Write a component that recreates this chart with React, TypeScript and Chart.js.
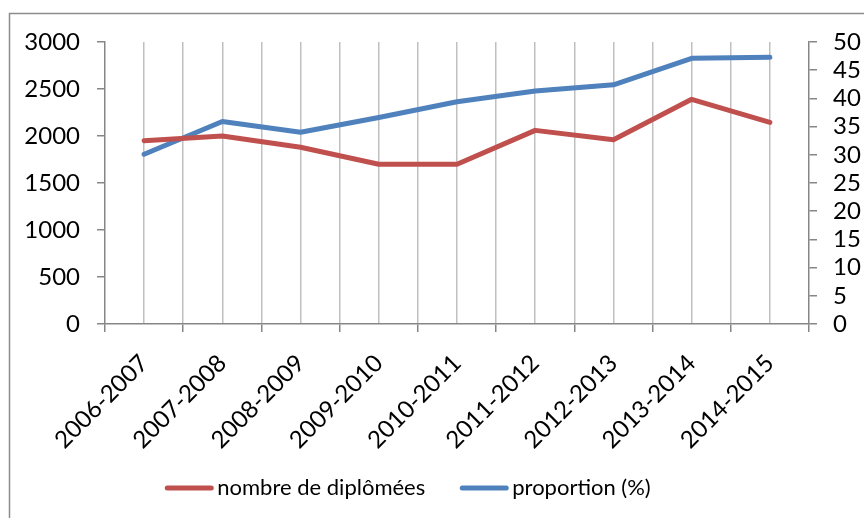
import React, { useEffect, useRef } from "react";
import { Chart, registerables } from "chart.js";

Chart.register(...registerables);

const categories = [
  "2006-2007",
  "2007-2008",
  "2008-2009",
  "2009-2010",
  "2010-2011",
  "2011-2012",
  "2012-2013",
  "2013-2014",
  "2014-2015",
];
const diplomees = [1950, 2000, 1880, 1700, 1700, 2060, 1960, 2390, 2145];
const proportion = [30.1, 35.9, 34.0, 36.6, 39.4, 41.3, 42.4, 47.1, 47.3];
const seriesNames = ["nombre de diplômées", "proportion (%)"];

const FONT = "Lato, 'Open Sans', sans-serif";
const AXIS_COLOR = "#868686";
const GRID_COLOR = "#c0c0c0";

const frame = {
  id: "frame",
  beforeDraw(chart: any) {
    const ctx = chart.ctx;
    ctx.save();
    ctx.fillStyle = "#ffffff";
    ctx.fillRect(0, 0, chart.width, chart.height);
    ctx.strokeStyle = "#8c8c8c";
    ctx.lineWidth = 1.5;
    ctx.strokeRect(9.5, 13.5, 1000, 1000);
    ctx.restore();
  },
};

// Excel-style legend: short line, text right next to it
const excelLegend = {
  id: "excelLegend",
  afterDraw(chart: any) {
    const ctx = chart.ctx;
    const lineW = 48;
    const gapText = 4;
    const gapItems = 35;
    const y = 488;
    const centerX = 408;
    ctx.save();
    ctx.font = `22px ${FONT}`;
    const items = chart.data.datasets.map((ds: any) => ({
      label: ds.label,
      color: ds.borderColor,
      w: ctx.measureText(ds.label).width,
    }));
    const total =
      items.reduce((s: number, it: any) => s + lineW + gapText + it.w, 0) +
      gapItems * (items.length - 1);
    let x = centerX - total / 2;
    ctx.textBaseline = "middle";
    ctx.textAlign = "left";
    for (const it of items) {
      ctx.strokeStyle = it.color;
      ctx.lineWidth = 5;
      ctx.lineCap = "round";
      ctx.beginPath();
      ctx.moveTo(x + 2, y);
      ctx.lineTo(x + lineW - 2, y);
      ctx.stroke();
      ctx.fillStyle = "#000";
      ctx.fillText(it.label, x + lineW + gapText, y);
      x += lineW + gapText + it.w + gapItems;
    }
    ctx.restore();
  },
};

export default function App() {
  const ref = useRef<HTMLCanvasElement | null>(null);
  useEffect(() => {
    if (!ref.current) return;
    const chart = new Chart(ref.current, {
      type: "line",
      data: {
        datasets: [
          {
            label: seriesNames[0],
            data: diplomees.map((v, i) => ({ x: i, y: v })),
            borderColor: "#C0504D",
            backgroundColor: "#C0504D",
            borderWidth: 5,
            pointRadius: 0,
            tension: 0,
            borderCapStyle: "round",
            borderJoinStyle: "round",
            yAxisID: "y",
          },
          {
            label: seriesNames[1],
            data: proportion.map((v, i) => ({ x: i, y: v })),
            borderColor: "#4F81BD",
            backgroundColor: "#4F81BD",
            borderWidth: 5,
            pointRadius: 0,
            tension: 0,
            borderCapStyle: "round",
            borderJoinStyle: "round",
            yAxisID: "y1",
          },
        ],
      },
      options: {
        responsive: false,
        animation: false,
        layout: { padding: { top: 42, left: 0, right: 0, bottom: 0 } },
        plugins: {
          tooltip: { enabled: false },
          legend: { display: false },
        },
        scales: {
          x: {
            type: "linear",
            min: -0.5,
            max: 8.5,
            afterBuildTicks(scale: any) {
              const t = [];
              for (let v = -0.5; v <= 8.5001; v += 0.5) t.push({ value: v });
              scale.ticks = t;
            },
            afterFit(scale: any) {
              scale.height = 194;
            },
            ticks: {
              autoSkip: false,
              maxRotation: 45,
              minRotation: 45,
              padding: 17,
              color: "#000",
              font: { family: FONT, size: 24 },
              callback: (v: any) =>
                Number.isInteger(v) ? categories[v] ?? "" : "",
            },
            grid: {
              drawTicks: true,
              tickLength: 8,
              lineWidth: 1.5,
              color: (c: any) =>
                c.tick && (c.tick.value === -0.5 || c.tick.value === 8.5)
                  ? "rgba(0,0,0,0)"
                  : GRID_COLOR,
              tickColor: (c: any) =>
                c.tick && !Number.isInteger(c.tick.value)
                  ? AXIS_COLOR
                  : "rgba(0,0,0,0)",
            },
            border: { display: true, color: AXIS_COLOR, width: 1.5 },
          },
          y: {
            type: "linear",
            position: "left",
            min: 0,
            max: 3000,
            afterFit(scale: any) {
              scale.width = 105;
            },
            ticks: {
              stepSize: 500,
              autoSkip: false,
              padding: 17,
              color: "#000",
              font: { family: FONT, size: 24 },
              callback: (v: any) => String(v),
            },
            grid: {
              drawOnChartArea: false,
              tickLength: 8,
              tickColor: AXIS_COLOR,
              lineWidth: 1.5,
            },
            border: { display: true, color: AXIS_COLOR, width: 1.5 },
          },
          y1: {
            type: "linear",
            position: "right",
            min: 0,
            max: 50,
            afterFit(scale: any) {
              scale.width = 55;
            },
            ticks: {
              stepSize: 5,
              autoSkip: false,
              padding: 16,
              color: "#000",
              font: { family: FONT, size: 24 },
              callback: (v: any) => String(v),
            },
            grid: {
              drawOnChartArea: false,
              tickLength: 8,
              tickColor: AXIS_COLOR,
              lineWidth: 1.5,
            },
            border: { display: true, color: AXIS_COLOR, width: 1.5 },
          },
        },
      },
      plugins: [frame, excelLegend],
    } as any);
    return () => chart.destroy();
  }, []);
  return (
    <div style={{ position: "absolute", left: 0, top: 0, width: 864, height: 518 }}>
      <canvas ref={ref} width={864} height={518} style={{ width: 864, height: 518 }} />
    </div>
  );
}
